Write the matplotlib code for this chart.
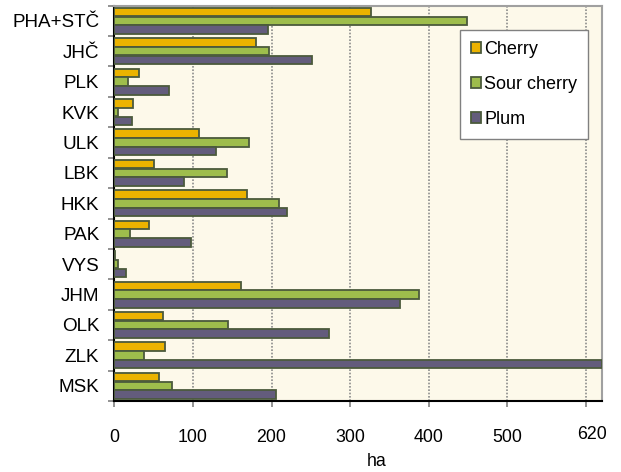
import matplotlib
matplotlib.use("Agg")
import matplotlib.pyplot as plt
import matplotlib.transforms as mtransforms
import numpy as np

plt.rcParams['font.family'] = ['Liberation Sans', 'DejaVu Sans']

regions = ["PHA+STČ", "JHČ", "PLK", "KVK", "ULK", "LBK", "HKK", "PAK",
           "VYS", "JHM", "OLK", "ZLK", "MSK"]
cherry = [326, 180, 32, 24, 108, 50, 169, 44, 1, 161, 62, 64, 57]
sour_cherry = [449, 197, 17, 5, 171, 143, 209, 20, 5, 388, 144, 38, 73]
plum = [195, 251, 69, 22, 130, 89, 220, 97, 15, 363, 273, 620, 206]
series_names = ["Cherry", "Sour cherry", "Plum"]
xtick_values = [0, 100, 200, 300, 400, 500, 600]
xtick_labels = ["0", "100", "200", "300", "400", "500", "620"]

colors = ["#EBB300", "#9EBD4C", "#635C7C"]
edge = "#4B5A3C"

fig = plt.figure(figsize=(6.21, 4.72), dpi=100)
ax = fig.add_axes([114.3 / 621, 1 - 401 / 472, 487.4 / 621, 395.4 / 472])
ax.set_facecolor("#FDF9EA")

y = np.arange(len(regions))
h = 0.28
offs = [-0.287, 0.0, 0.287]
for vals, c, name, o in zip([cherry, sour_cherry, plum], colors, series_names, offs):
    ax.barh(y + o, vals, height=h, color=c, edgecolor=edge, linewidth=1.3,
            label=name, zorder=3)

ax.set_xlim(0, 620)
ax.set_ylim(len(regions) - 0.5, -0.5)

# grid
for xv in xtick_values[1:]:
    ax.axvline(xv, color="#8c8c8c", linestyle=(0, (1, 1)), linewidth=1.2, zorder=1)

# y ticks
ax.set_yticks(np.arange(-0.5, len(regions) + 0.5, 1.0))
ax.set_yticklabels([])
ax.set_yticks(y, minor=True)
ax.set_yticklabels(regions, minor=True, fontsize=13.6)
ax.tick_params(axis='y', which='minor', length=0, pad=10.8)
ax.tick_params(axis='y', which='major', length=4, color="#808080", width=1.2)

# x ticks
ax.set_xticks(xtick_values)
ax.set_xticklabels(xtick_labels, fontsize=12.8)
ax.tick_params(axis='x', which='major', length=4, color="#808080", width=1.2, pad=16)
lbl = ax.get_xticklabels()[-1]
lbl.set_transform(lbl.get_transform() + mtransforms.ScaledTranslation(6 / 100, 3 / 100, fig.dpi_scale_trans))

ax.set_xlabel("ha", fontsize=12.8)
ax.xaxis.set_label_coords(0.539, -0.132)

for s in ["left", "bottom"]:
    ax.spines[s].set_color("black")
    ax.spines[s].set_linewidth(1.5)
for s in ["top", "right"]:
    ax.spines[s].set_color("#a0a0a0")
    ax.spines[s].set_linewidth(1.5)

leg = ax.legend(loc="upper right", bbox_to_anchor=(0.972, 0.938), borderaxespad=0,
                fontsize=13, handlelength=0.55, handleheight=0.55, handletextpad=0.2,
                labelspacing=1.0, borderpad=0.6, fancybox=False, framealpha=1,
                edgecolor="#808080")
leg.get_frame().set_linewidth(1.0)
leg.set_zorder(5)

fig.savefig("out.png", dpi=100)
